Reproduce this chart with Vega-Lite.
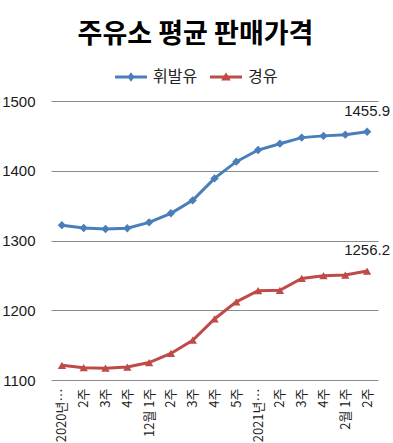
{
  "$schema": "https://vega.github.io/schema/vega-lite/v6.json",
  "width": 327,
  "height": 279,
  "autosize": {"type": "none"},
  "padding": {"left": 51, "top": 101, "right": 15, "bottom": 63},
  "background": "white",
  "title": {"text": "주유소 평균 판매가격", "fontSize": 27, "font": "Noto Sans CJK KR", "fontWeight": "bold", "color": "#000000", "anchor": "middle", "dx": -19, "offset": 12},
  "config": {"view": {"stroke": null}},
  "data": {"values": [
    {"fuel": "휘발유", "week": "2020년 11월 1주", "price": 1322},
    {"fuel": "휘발유", "week": "11월 2주", "price": 1318},
    {"fuel": "휘발유", "week": "11월 3주", "price": 1316.5},
    {"fuel": "휘발유", "week": "11월 4주", "price": 1317.5},
    {"fuel": "휘발유", "week": "12월 1주", "price": 1326},
    {"fuel": "휘발유", "week": "12월 2주", "price": 1339},
    {"fuel": "휘발유", "week": "12월 3주", "price": 1357.6},
    {"fuel": "휘발유", "week": "12월 4주", "price": 1389},
    {"fuel": "휘발유", "week": "12월 5주", "price": 1413},
    {"fuel": "휘발유", "week": "2021년 1월 1주", "price": 1429.7},
    {"fuel": "휘발유", "week": "1월 2주", "price": 1438.8},
    {"fuel": "휘발유", "week": "1월 3주", "price": 1447.5},
    {"fuel": "휘발유", "week": "1월 4주", "price": 1450},
    {"fuel": "휘발유", "week": "2월 1주", "price": 1451.7},
    {"fuel": "휘발유", "week": "2월 2주", "price": 1455.9},
    {"fuel": "경유", "week": "2020년 11월 1주", "price": 1121},
    {"fuel": "경유", "week": "11월 2주", "price": 1117.6},
    {"fuel": "경유", "week": "11월 3주", "price": 1117},
    {"fuel": "경유", "week": "11월 4주", "price": 1118.6},
    {"fuel": "경유", "week": "12월 1주", "price": 1125},
    {"fuel": "경유", "week": "12월 2주", "price": 1138},
    {"fuel": "경유", "week": "12월 3주", "price": 1157},
    {"fuel": "경유", "week": "12월 4주", "price": 1187.5},
    {"fuel": "경유", "week": "12월 5주", "price": 1212},
    {"fuel": "경유", "week": "2021년 1월 1주", "price": 1228},
    {"fuel": "경유", "week": "1월 2주", "price": 1228.5},
    {"fuel": "경유", "week": "1월 3주", "price": 1245.6},
    {"fuel": "경유", "week": "1월 4주", "price": 1249.5},
    {"fuel": "경유", "week": "2월 1주", "price": 1250.5},
    {"fuel": "경유", "week": "2월 2주", "price": 1256.2}
  ]},
  "encoding": {
    "x": {
      "field": "week", "type": "ordinal", "sort": null,
      "scale": {"type": "point", "padding": 0.5},
      "axis": {
        "title": null, "domain": false, "ticks": false, "grid": false,
        "labelAngle": -90, "labelFontSize": 13, "labelFont": "Noto Sans CJK KR",
        "labelColor": "#222222", "labelPadding": 8, "labelOverlap": false, "labelLimit": 200,
        "labelExpr": "length(datum.value) > 8 ? slice(datum.value, 0, 5) + '…' : (indexof(datum.value, ' 1주') >= 0 ? datum.value : split(datum.value, ' ')[1])"
      }
    },
    "y": {
      "field": "price", "type": "quantitative",
      "scale": {"domain": [1100, 1500], "zero": false, "nice": false},
      "axis": {
        "title": null, "values": [1100, 1200, 1300, 1400, 1500], "format": "d", "domain": false, "ticks": false,
        "grid": true, "gridColor": "#8c8c8c", "gridWidth": 1, "gridOpacity": 1,
        "labelFontSize": 15, "labelFont": "Liberation Sans", "labelColor": "#1a1a1a", "labelPadding": 16
      }
    }
  },
  "layer": [
    {
      "mark": {"type": "line", "strokeWidth": 3},
      "encoding": {
        "color": {"field": "fuel", "type": "nominal", "scale": {"domain": ["휘발유", "경유"], "range": ["#4A7EBB", "#BE4B48"]}, "legend": null}
      }
    },
    {
      "mark": {"type": "point", "filled": true, "opacity": 1, "size": 70},
      "encoding": {
        "color": {"field": "fuel", "type": "nominal", "scale": {"domain": ["휘발유", "경유"], "range": ["#4A7EBB", "#BE4B48"]}, "legend": null},
        "shape": {"field": "fuel", "type": "nominal", "scale": {"domain": ["휘발유", "경유"], "range": ["diamond", "triangle-up"]}, "legend": null}
      }
    },
    {
      "transform": [{"filter": "datum.week == '2월 2주'"}],
      "mark": {"type": "text", "dy": -21, "fontSize": 15, "font": "Liberation Sans", "color": "#1a1a1a"},
      "encoding": {"text": {"field": "price", "type": "quantitative", "format": ".1f"}}
    },
    {
      "transform": [{"filter": "false"}],
      "mark": {"type": "point", "filled": true, "opacity": 1},
      "encoding": {
        "color": {"field": "fuel", "type": "nominal", "scale": {"domain": ["휘발유", "경유"], "range": ["#4A7EBB", "#BE4B48"]},
          "legend": {"orient": "none", "legendX": 64, "legendY": -40, "direction": "horizontal", "title": null, "labelFontSize": 16, "labelFont": "Noto Sans CJK KR", "labelColor": "#222222", "symbolSize": 1024, "symbolStrokeWidth": 0, "columnPadding": 12, "labelOffset": 6}},
        "shape": {"field": "fuel", "type": "nominal",
          "scale": {"domain": ["휘발유", "경유"], "range": ["M-1,-0.09H1V0.09H-1Z M0,-0.3L0.22,0L0,0.3L-0.22,0Z", "M-1,-0.09H1V0.09H-1Z M0,-0.3L0.3,0.22L-0.3,0.22Z"]},
          "legend": {"orient": "none", "legendX": 64, "legendY": -40, "direction": "horizontal", "title": null, "labelFontSize": 16, "labelFont": "Noto Sans CJK KR", "labelColor": "#222222", "symbolSize": 1024, "symbolStrokeWidth": 0, "columnPadding": 12, "labelOffset": 6}}
      }
    }
  ],
  "resolve": {"scale": {"color": "independent", "shape": "independent"}}
}
